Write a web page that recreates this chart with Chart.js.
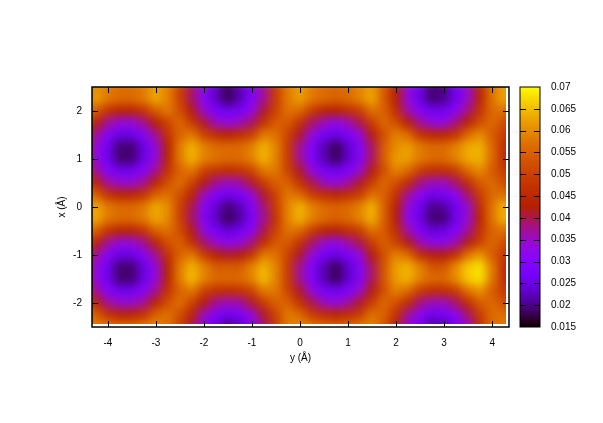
<!DOCTYPE html>
<html>
<head>
<meta charset="utf-8">
<title>map</title>
<script src="https://cdn.jsdelivr.net/npm/chart.js@4"></script>
<style>
  html, body { margin: 0; padding: 0; background: #fff; }
  #wrap { position: relative; width: 603px; height: 423px; }
  canvas { position: absolute; left: 0; top: 0; }
</style>
</head>
<body>
<div id="wrap">
  <canvas id="mapChart" width="603" height="423"></canvas>
  <canvas id="barChart" width="603" height="423"></canvas>
</div>
<script>
// grid positions in angstrom
var yAngstrom = [-4.5,-4.25,-4,-3.75,-3.5,-3.25,-3,-2.75,-2.5,-2.25,-2,-1.75,-1.5,-1.25,-1,-0.75,-0.5,-0.25,0,0.25,0.5,0.75,1,1.25,1.5,1.75,2,2.25,2.5,2.75,3,3.25,3.5,3.75,4,4.25,4.5];
var xAngstrom = [2.5,2.25,2,1.75,1.5,1.25,1,0.75,0.5,0.25,0,-0.25,-0.5,-0.75,-1,-1.25,-1.5,-1.75,-2,-2.25,-2.5];

// values, in units of 0.001, one row per xAngstrom entry
var row0  = [58,60,58,56,56,58,62,59,50,39,31,23,18,22,29,37,49,58,62,58,56,55,56,59,62,54,43,33,25,19,20,26,34,44,57,62,58];
var row1  = [58,62,58,56,56,58,63,59,50,39,31,23,18,22,29,37,49,58,62,58,56,55,56,59,63,54,43,33,25,19,20,26,34,44,57,63,58];
var row2  = [57,54,47,44,44,47,54,58,52,42,34,28,26,27,32,41,50,57,56,49,44,43,46,49,57,55,46,36,30,26,26,31,38,47,56,57,50];
var row3  = [52,43,37,33,33,37,43,50,56,49,41,35,33,35,39,47,54,54,47,39,35,32,35,40,49,56,52,43,37,33,33,38,44,52,56,52,44];
var row4  = [47,37,30,25,25,30,37,47,55,58,50,46,43,46,49,58,57,50,41,33,27,25,28,33,42,52,59,56,47,44,44,47,56,60,54,49,40];
var row5  = [44,33,26,19,19,25,33,43,58,64,59,56,56,56,59,64,59,49,37,29,22,18,23,30,39,54,60,62,58,56,56,59,63,64,56,46,38];
var row6  = [44,33,26,19,19,25,33,44,58,64,59,57,56,56,59,64,59,49,37,29,22,18,23,30,39,54,62,62,58,56,56,59,63,64,56,46,38];
var row7  = [47,37,30,26,26,30,37,47,55,58,50,47,46,47,50,58,58,50,41,33,27,26,28,34,42,52,59,56,49,46,46,49,56,60,54,49,40];
var row8  = [52,44,37,34,34,37,44,52,57,50,42,37,35,36,41,49,55,55,47,40,35,33,36,41,49,56,52,46,38,35,35,39,46,54,56,52,44];
var row9  = [57,55,47,44,44,47,55,57,52,44,35,29,26,28,33,41,50,58,56,49,46,44,46,49,57,55,47,37,31,26,27,31,39,49,56,57,50];
var row10 = [60,63,58,56,56,58,63,60,50,40,31,24,19,22,29,38,49,59,64,59,56,55,56,59,64,55,43,33,26,20,21,26,34,46,57,64,58];
var row11 = [60,63,58,56,56,58,63,60,50,39,30,23,18,21,28,37,47,59,64,59,56,55,56,59,64,55,42,32,25,19,19,26,34,44,57,64,58];
var row12 = [57,55,47,44,44,47,55,57,52,42,33,27,24,26,31,40,50,57,56,49,44,43,46,49,57,54,46,36,29,24,25,29,37,47,55,57,50];
var row13 = [52,44,37,33,33,37,44,52,55,47,39,34,32,33,38,46,54,54,47,39,34,32,36,40,49,55,50,42,36,32,32,36,42,50,56,52,44];
var row14 = [47,37,30,25,25,30,37,47,55,58,49,43,41,42,47,58,57,50,41,33,27,25,28,33,42,52,59,56,46,42,42,46,57,61,54,49,40];
var row15 = [44,33,26,19,19,25,33,43,58,64,59,54,54,54,59,64,59,49,37,29,22,18,23,30,39,53,62,64,59,53,53,60,66,68,58,46,38];
var row16 = [44,33,26,19,19,25,33,44,58,65,59,56,56,56,59,65,59,49,37,29,22,18,23,30,39,53,62,64,59,56,56,60,66,68,58,46,38];
var row17 = [47,37,30,26,26,30,37,47,55,58,50,47,46,47,50,58,58,50,41,33,27,26,28,34,42,52,59,56,49,46,46,49,57,61,54,49,40];
var row18 = [52,44,37,34,34,37,44,52,57,50,42,37,35,36,41,49,55,55,47,40,35,33,36,41,49,56,52,46,38,35,35,39,46,54,56,52,44];
var row19 = [57,55,47,44,44,47,55,57,52,44,35,29,26,28,33,41,50,58,56,49,46,44,46,49,57,55,47,37,31,26,27,31,39,49,56,57,50];
var row20 = [57,58,58,56,56,58,59,57,50,40,31,24,19,22,29,38,49,58,60,58,56,55,56,58,59,53,43,33,26,20,21,26,34,46,56,58,57];
var rows = [row0,row1,row2,row3,row4,row5,row6,row7,row8,row9,row10,row11,row12,row13,row14,row15,row16,row17,row18,row19,row20];

var yTicks = [-4,-3,-2,-1,0,1,2,3,4];
var xTicks = [-2,-1,0,1,2];
var cbTicks = [0.015,0.02,0.025,0.03,0.035,0.04,0.045,0.05,0.055,0.06,0.065,0.07];
var cbMin = 0.015;
var cbMax = 0.07;

var labelFont = { family: '"Liberation Sans", sans-serif', size: 10 };

// gnuplot default pm3d palette (rgbformulae 7,5,15)
function paletteColor(v) {
  var t = Math.min(1, Math.max(0, (v - cbMin) / (cbMax - cbMin)));
  var r = Math.sqrt(t);
  var g = t * t * t;
  var b = Math.max(0, Math.sin(2 * Math.PI * t));
  return 'rgb(' + Math.round(r * 255) + ',' + Math.round(g * 255) + ',' + Math.round(b * 255) + ')';
}

// frame and inward ticks on all four sides
var frameTicks = {
  id: 'frameTicks',
  afterDraw: function(chart, args, opts) {
    var ctx = chart.ctx, a = chart.chartArea;
    ctx.save();
    ctx.strokeStyle = '#000';
    ctx.lineWidth = 1;
    ctx.beginPath();
    if (opts.xAxis) {
      chart.scales[opts.xAxis].ticks.forEach(function(t) {
        var px = Math.round(chart.scales[opts.xAxis].getPixelForValue(t.value)) + 0.5;
        ctx.moveTo(px, a.top); ctx.lineTo(px, a.top + 6);
        ctx.moveTo(px, a.bottom); ctx.lineTo(px, a.bottom - 6);
      });
    }
    chart.scales[opts.yAxis].ticks.forEach(function(t) {
      var py = Math.round(chart.scales[opts.yAxis].getPixelForValue(t.value)) + 0.5;
      if (py <= a.top + 1 || py >= a.bottom - 1) return;
      ctx.moveTo(a.left, py); ctx.lineTo(a.left + 6, py);
      ctx.moveTo(a.right, py); ctx.lineTo(a.right - 6, py);
    });
    ctx.stroke();
    ctx.lineWidth = opts.frame;
    ctx.strokeRect(a.left, a.top, a.right - a.left, a.bottom - a.top);
    ctx.restore();
  }
};

// smooth the drawn cells so the map reads as a continuous image, keep it inside the frame
var softCells = {
  id: 'softCells',
  afterDatasetDraw: function(chart) {
    var ctx = chart.ctx, a = chart.chartArea;
    var copy = document.createElement('canvas');
    copy.width = chart.canvas.width;
    copy.height = chart.canvas.height;
    copy.getContext('2d').drawImage(chart.canvas, 0, 0);
    ctx.clearRect(0, 0, copy.width, copy.height);
    ctx.save();
    ctx.beginPath();
    ctx.rect(a.left, a.top, a.right - a.left - 3, a.bottom - a.top - 3);
    ctx.clip();
    ctx.filter = 'blur(5px)';
    ctx.drawImage(copy, 0, 0);
    ctx.restore();
  }
};

var cells = [];
rows.forEach(function(row, j) {
  row.forEach(function(val, i) {
    cells.push({ x: yAngstrom[i], y: xAngstrom[j], v: val / 1000 });
  });
});

new Chart(document.getElementById('mapChart'), {
  type: 'scatter',
  data: {
    datasets: [{
      data: cells,
      pointStyle: 'rect',
      pointRadius: 9,
      pointBorderWidth: 0,
      borderWidth: 0,
      clip: 14,
      pointBackgroundColor: function(c) { return paletteColor(c.raw.v); }
    }]
  },
  plugins: [softCells, frameTicks],
  options: {
    responsive: false,
    animation: false,
    events: [],
    layout: { padding: { left: 0, top: 87, right: 94, bottom: 0 } },
    plugins: { legend: { display: false }, tooltip: { enabled: false },
      frameTicks: { xAxis: 'x', yAxis: 'y', frame: 1.5 } },
    scales: {
      x: {
        type: 'linear', min: -4.33, max: 4.35,
        afterFit: function(s) { s.height = 96; },
        afterBuildTicks: function(s) { s.ticks = yTicks.map(function(v) { return { value: v }; }); },
        grid: { display: false, z: 1 }, border: { display: false },
        ticks: { z: 1, color: '#000', font: labelFont, padding: 2, maxRotation: 0, callback: function(v) { return v; } },
        title: { display: true, text: 'y (Å)', color: '#000', font: labelFont, padding: { top: 6, bottom: 59 } }
      },
      y: {
        type: 'linear', min: -2.5, max: 2.5,
        afterFit: function(s) { s.width = 92; },
        afterBuildTicks: function(s) { s.ticks = xTicks.map(function(v) { return { value: v }; }); },
        grid: { display: false, z: 1 }, border: { display: false },
        ticks: { z: 1, color: '#000', font: labelFont, padding: 2, callback: function(v) { return v; } },
        title: { display: true, text: 'x (Å)', color: '#000', font: labelFont, padding: { top: 56, bottom: 0 } }
      }
    }
  }
});

// colour box: floating bars stepping through the cb range
var barSets = [];
var nSteps = 120;
for (var k = 0; k < nSteps; k++) {
  var lo = cbMin + (cbMax - cbMin) * k / nSteps;
  var hi = cbMin + (cbMax - cbMin) * (k + 1.5) / nSteps;
  barSets.push({
    data: [[lo, Math.min(hi, cbMax)]],
    backgroundColor: paletteColor((lo + hi) / 2),
    borderWidth: 0,
    grouped: false,
    barPercentage: 1,
    categoryPercentage: 1
  });
}

new Chart(document.getElementById('barChart'), {
  type: 'bar',
  data: { labels: [''], datasets: barSets },
  plugins: [frameTicks],
  options: {
    responsive: false,
    animation: false,
    events: [],
    layout: { padding: { left: 520, top: 87, right: 0, bottom: 96 } },
    plugins: { legend: { display: false }, tooltip: { enabled: false },
      frameTicks: { yAxis: 'y', frame: 1 } },
    scales: {
      x: { display: false, grid: { display: false } },
      y: {
        position: 'right', type: 'linear', min: cbMin, max: cbMax,
        afterFit: function(s) { s.width = 63; },
        afterBuildTicks: function(s) { s.ticks = cbTicks.map(function(v) { return { value: v }; }); },
        grid: { display: false }, border: { display: false },
        ticks: { color: '#000', font: labelFont, padding: 3, callback: function(v) { return String(v); } }
      }
    }
  }
});
</script>
</body>
</html>
